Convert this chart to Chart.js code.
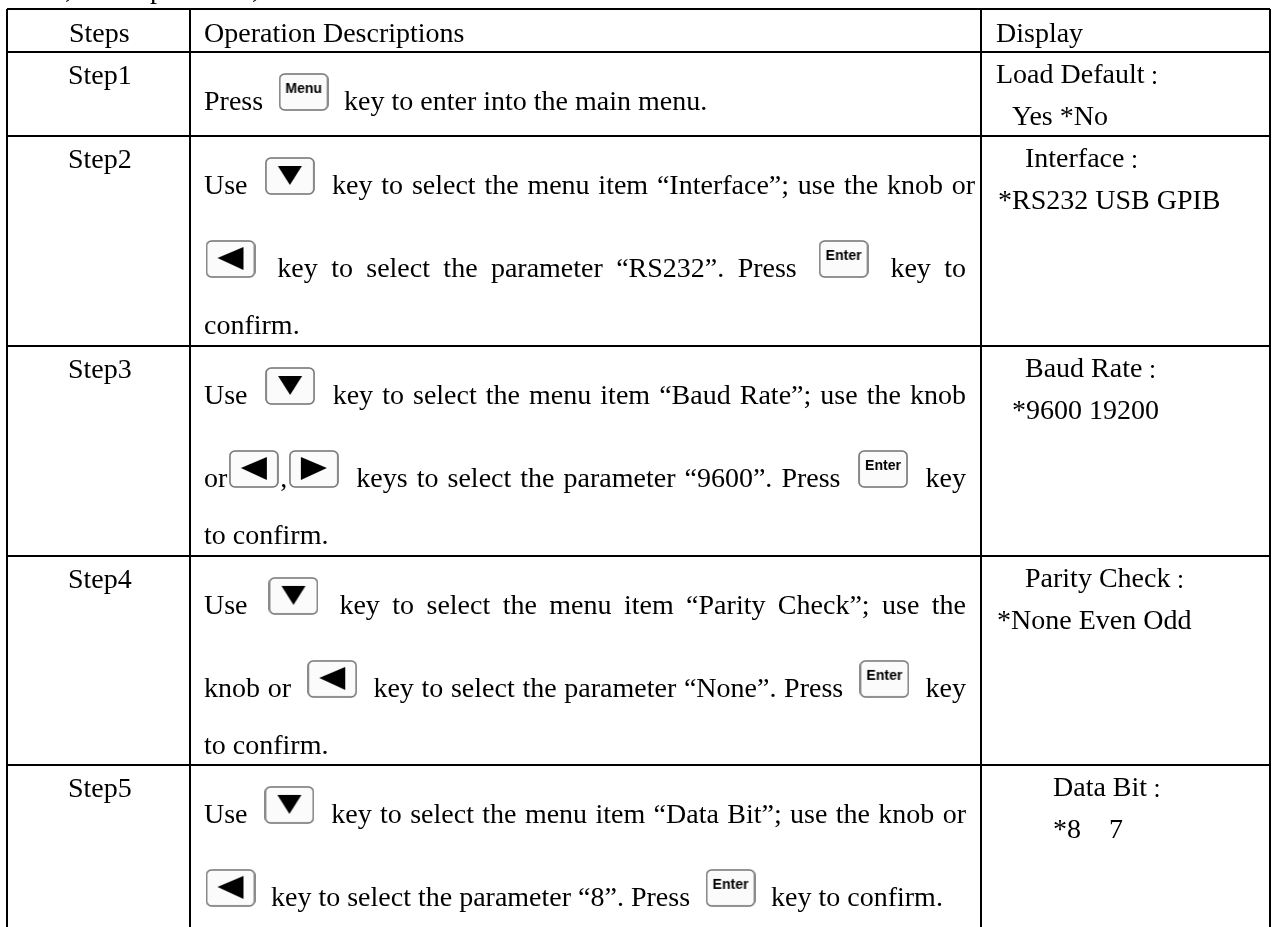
<!DOCTYPE html>
<html>
<head>
<meta charset="utf-8">
<title>Operation steps</title>
<script src="https://cdn.jsdelivr.net/npm/chart.js@4"></script>
<style>
    html, body { margin: 0; padding: 0; background: #fff; overflow: hidden; }
    #wrap { width: 1273px; height: 927px; }
</style>
</head>
<body>
<div id="wrap"><canvas id="tableChart"></canvas></div>
<script>
// table content
const headers = ['Steps', 'Operation Descriptions', 'Display'];
const stepLabels = ['Step1', 'Step2', 'Step3', 'Step4', 'Step5'];

// description lines, {name} is a key icon
const stepLines = [
    ['Press {menu} key to enter into the main menu.'],
    ['Use {down} key to select the menu item “Interface”; use the knob or',
     '{left} key to select the parameter “RS232”. Press {enter} key to',
     'confirm.'],
    ['Use {down} key to select the menu item “Baud Rate”; use the knob',
     'or{left},{right} keys to select the parameter “9600”. Press {enter} key',
     'to confirm.'],
    ['Use {down} key to select the menu item “Parity Check”; use the',
     'knob or {left} key to select the parameter “None”. Press {enter} key',
     'to confirm.'],
    ['Use {down} key to select the menu item “Data Bit”; use the knob or',
     '{left} key to select the parameter “8”. Press {enter} key to confirm.']
];
const displayTitles = ['Load Default', 'Interface', 'Baud Rate', 'Parity Check', 'Data Bit'];
const displayOptions = ['Yes *No', '*RS232 USB GPIB', '*9600 19200', '*None Even Odd', '*8\u00a0\u00a0\u00a0\u00a07'];
// bottoms of the line cut off by the top of the page
const cutOffGlyphs = [',', 'p', ','];

// layout, in page pixels
const columnEdges = [7, 190, 981, 1270];
const rowEdges = [9, 52, 136, 346, 556, 765];
const displayTitleX = [996, 1025, 1025, 1025, 1053];
const displayOptionX = [1012, 998, 1012, 997, 1053];
const cutOffX = [65, 150, 252];
const lineEnds = [[null], [975, 966, null], [966, 966, null], [966, 966, null], [966, null]];
const lineOffsets = [58, 141, 198]; // baseline of each line below the row top

const FONT = '"Liberation Serif", serif';
const COLON_FONT = '20px "Noto Sans CJK SC"';
const FONT_SIZE = 28;
const DESC_LEFT = 204;
const SPACE = 7;
const KEY_GAP = 9;
const KEY_W = 49;

function makeKey(name) {
    const c = document.createElement('canvas');
    c.width = 50; c.height = 38;
    const g = c.getContext('2d');
    g.fillStyle = '#fbfbfb';
    g.strokeStyle = '#707070';
    g.lineWidth = 1.6;
    g.beginPath();
    g.roundRect(1, 1, 48, 36, 5);
    g.fill();
    g.stroke();
    g.fillStyle = '#000';
    if (name === 'menu' || name === 'enter') {
        g.font = 'bold 14px "Liberation Sans"';
        g.textAlign = 'center';
        g.textBaseline = 'middle';
        g.fillText(name === 'menu' ? 'Menu' : 'Enter', 25, 16);
    } else {
        g.beginPath();
        if (name === 'down') { g.moveTo(13, 9); g.lineTo(37, 9); g.lineTo(25, 28); }
        if (name === 'left') { g.moveTo(12, 18); g.lineTo(38, 7); g.lineTo(38, 30); }
        if (name === 'right') { g.moveTo(38, 18); g.lineTo(12, 7); g.lineTo(12, 30); }
        g.closePath();
        g.fill();
    }
    return c;
}
const keyImages = {};
['menu', 'down', 'left', 'right', 'enter'].forEach(k => { keyImages[k] = makeKey(k); });

// flow the description lines into text runs and key points
const measure = document.createElement('canvas').getContext('2d');
measure.font = FONT_SIZE + 'px ' + FONT;
const textRuns = [];
const keyPoints = [];
const keyStyles = [];

function layoutLine(line, baseline, right) {
    const tokens = line.replace(/([^ ])\{/g, '$1 \u0001{').replace(/\}([^ ])/g, '} \u0001$1').split(' ');
    const items = tokens.map(t => {
        const glued = t.startsWith('\u0001');
        const word = glued ? t.slice(1) : t;
        const isKey = word.startsWith('{');
        return { word, glued, isKey, w: isKey ? KEY_W : measure.measureText(word).width };
    });
    let total = 0;
    let gaps = 0;
    let start = DESC_LEFT + (items[0].isKey ? 2 : 0);
    items.forEach((it, i) => {
        total += it.w;
        if (i === 0) return;
        if (it.glued) { total += 2; return; }
        gaps += 1;
        if (it.isKey || items[i - 1].isKey) total += KEY_GAP;
    });
    const space = right ? (right - start - total) / gaps : SPACE;
    let x = start;
    items.forEach((it, i) => {
        if (i > 0) {
            if (it.glued) x += 2;
            else x += space + (it.isKey || items[i - 1].isKey ? KEY_GAP : 0);
        }
        if (it.isKey) {
            keyPoints.push({ x: x + KEY_W / 2, y: baseline - 18 });
            keyStyles.push(keyImages[it.word.slice(1, -1)]);
        } else {
            textRuns.push({ x: x, y: baseline, text: it.word });
        }
        x += it.w;
    });
}

cutOffGlyphs.forEach((g, i) => textRuns.push({ x: cutOffX[i], y: -2, text: g }));
headers.forEach((h, i) => {
    textRuns.push({ x: [69, DESC_LEFT, 996][i], y: 42, text: h });
});
stepLabels.forEach((s, i) => {
    const top = rowEdges[i + 1];
    textRuns.push({ x: 68, y: top + 32, text: s });
    textRuns.push({ x: displayTitleX[i], y: top + 31, text: displayTitles[i] });
    // the full width colon sits low and small in the reference
    textRuns.push({
        x: displayTitleX[i] + measure.measureText(displayTitles[i]).width + 5,
        y: top + 32,
        text: '：',
        font: COLON_FONT
    });
    textRuns.push({ x: displayOptionX[i], y: top + 73, text: displayOptions[i] });
    stepLines[i].forEach((line, j) => {
        layoutLine(line, top + lineOffsets[j], lineEnds[i][j]);
    });
});

// writes the text runs at their place on the scales
const textRunsPlugin = {
    id: 'textRuns',
    afterDatasetsDraw(chart) {
        const { ctx, scales } = chart;
        ctx.save();
        ctx.fillStyle = '#000';
        ctx.textBaseline = 'alphabetic';
        textRuns.forEach(r => {
            ctx.font = r.font || (FONT_SIZE + 'px ' + FONT);
            ctx.fillText(r.text, scales.x.getPixelForValue(r.x), scales.y.getPixelForValue(r.y));
        });
        ctx.restore();
    }
};

new Chart(document.getElementById('tableChart'), {
    type: 'scatter',
    data: {
        datasets: [{
            label: 'Keys',
            data: keyPoints,
            pointStyle: keyStyles,
            // small radii, large ones make the layout pad the chart area
            pointRadius: 0.1,
            pointHoverRadius: 0,
            pointBorderWidth: 0,
            showLine: false
        }]
    },
    options: {
        responsive: true,
        maintainAspectRatio: false,
        animation: false,
        events: [],
        layout: { padding: { left: columnEdges[0], top: rowEdges[0], right: 1273 - columnEdges[3], bottom: 0 } },
        plugins: { legend: { display: false }, tooltip: { enabled: false } },
        scales: {
            x: {
                type: 'linear', min: columnEdges[0], max: columnEdges[3],
                afterFit: axis => { axis.height = 0; },
                afterBuildTicks: axis => { axis.ticks = columnEdges.map(v => ({ value: v })); },
                ticks: { display: false },
                border: { display: false },
                grid: { color: '#000', lineWidth: 2, drawTicks: false }
            },
            y: {
                type: 'linear', min: rowEdges[0], max: 927, reverse: true,
                afterFit: axis => { axis.width = 0; },
                afterBuildTicks: axis => { axis.ticks = rowEdges.map(v => ({ value: v })); },
                ticks: { display: false },
                border: { display: false },
                grid: { color: '#000', lineWidth: 2, drawTicks: false }
            }
        }
    },
    plugins: [textRunsPlugin]
});
</script>
</body>
</html>
